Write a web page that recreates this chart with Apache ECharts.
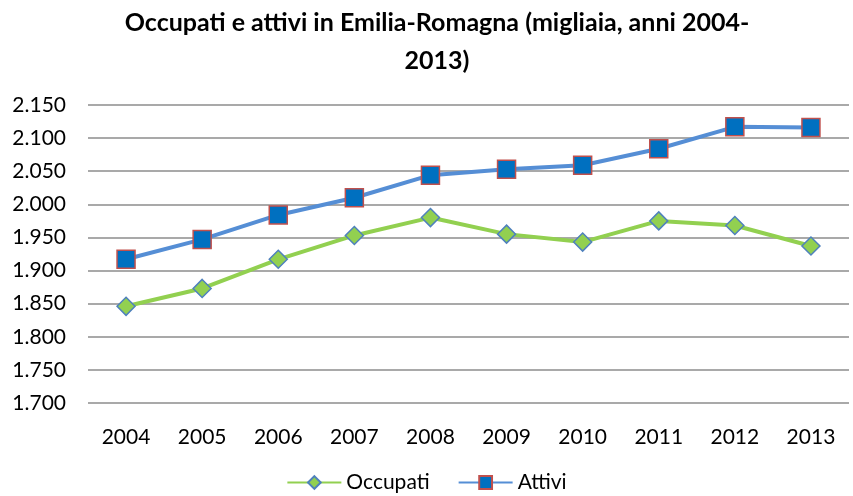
<!DOCTYPE html>
<html><head><meta charset="utf-8">
<script src="https://cdn.jsdelivr.net/npm/echarts@6/dist/echarts.min.js"></script>
<style>html,body{margin:0;padding:0;background:#fff}#c{width:853px;height:496px}</style>
</head><body><div id="c"></div>
<script>
const years = ['2004','2005','2006','2007','2008','2009','2010','2011','2012','2013'];
const occupati = [1846, 1873, 1917, 1953, 1980, 1955, 1943, 1975, 1968, 1937];
const attivi = [1917, 1947, 1984, 2010, 2044, 2053, 2059, 2084, 2117, 2116];
const yMin = 1700, yMax = 2150, yStep = 50;
const fmt = v => String(v).replace(/^(\d)(\d{3})$/, '$1.$2');
const FONT = 'Lato';
const chart = echarts.init(document.getElementById('c'));
chart.setOption({
  animation: false,
  title: {
    text: 'Occupati e attivi in Emilia-Romagna (migliaia, anni 2004-\n2013)',
    left: 432, top: -1, textAlign: 'center',
    textStyle: {fontFamily: FONT, fontSize: 25, fontWeight: 'bold', color: '#000', lineHeight: 38}
  },
  legend: {
    bottom: -2, left: 'center', itemGap: 28, itemWidth: 54, itemHeight: 16,
    textStyle: {fontFamily: FONT, fontSize: 21, color: '#000'},
    data: ['Occupati', 'Attivi']
  },
  grid: {left: 88, right: 4, top: 105, bottom: 93},
  xAxis: {
    type: 'category', data: years, boundaryGap: true,
    axisLine: {show: false}, axisTick: {show: false},
    axisLabel: {fontFamily: FONT, fontSize: 21, color: '#000', margin: 24}
  },
  yAxis: {
    type: 'value', min: yMin, max: yMax, interval: yStep,
    axisLine: {show: false}, axisTick: {show: false},
    axisLabel: {fontFamily: FONT, fontSize: 21, color: '#000', margin: 22, formatter: fmt},
    splitLine: {lineStyle: {color: '#8c8c8c', width: 1.5}}
  },
  series: [
    {
      name: 'Occupati', type: 'line', data: occupati,
      symbol: 'diamond', symbolSize: 18,
      lineStyle: {color: '#92D050', width: 4},
      itemStyle: {color: '#92D050', borderColor: '#4F81BD', borderWidth: 1.5}
    },
    {
      name: 'Attivi', type: 'line', data: attivi,
      symbol: 'rect', symbolSize: 18,
      lineStyle: {color: '#558ED5', width: 4},
      itemStyle: {color: '#0070C0', borderColor: '#C0504D', borderWidth: 1.5}
    }
  ]
});
</script></body></html>
